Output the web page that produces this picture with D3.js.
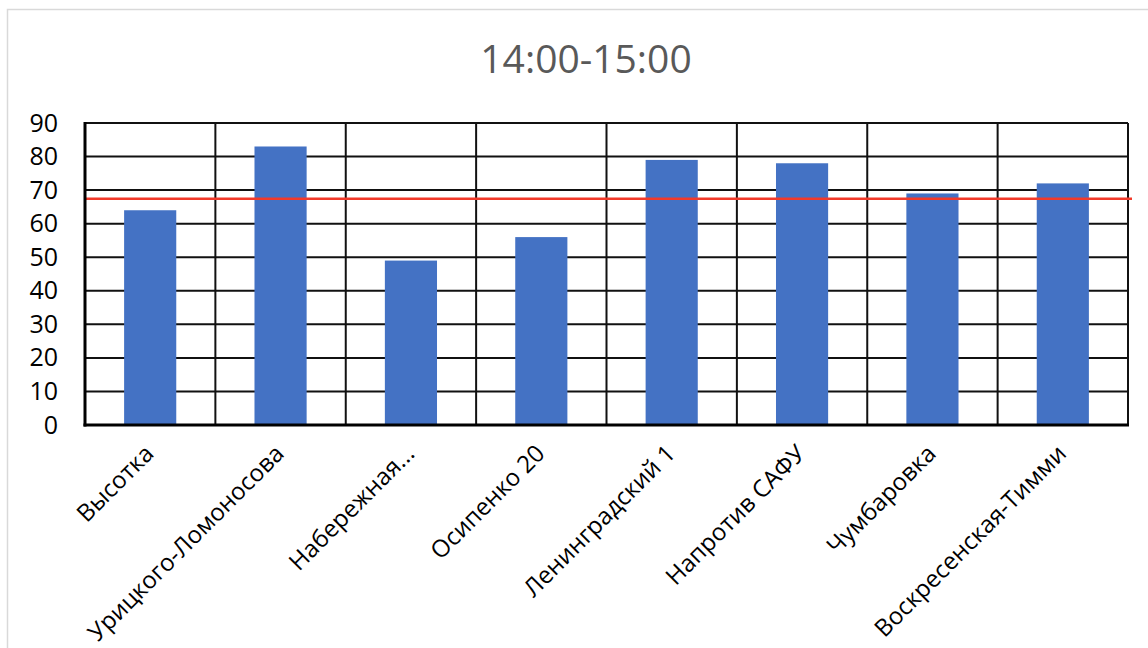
<!DOCTYPE html>
<html>
<head>
<meta charset="utf-8">
<script src="https://cdn.jsdelivr.net/npm/d3@7"></script>
<style>
  html, body { margin: 0; padding: 0; background: #fff; }
  svg { display: block; }
</style>
</head>
<body>
<svg id="chart" width="1148" height="648"></svg>
<script>
// Stops and their counts for the 14:00-15:00 interval
const categories = ["Высотка", "Урицкого-Ломоносова", "Набережная...", "Осипенко 20",
                    "Ленинградский 1", "Напротив САФУ", "Чумбаровка", "Воскресенская-Тимми"];
const values = [64, 83, 49, 56, 79, 78, 69, 72];
const referenceLevel = [67.4];
const yTicks = [0, 10, 20, 30, 40, 50, 60, 70, 80, 90];
const title = "14:00-15:00";

const svg = d3.select("#chart");
const margin = { left: 85, right: 1128, top: 123, bottom: 425 };
const font = "'Open Sans', 'Noto Sans', sans-serif";

// Outer chart frame
svg.append("rect")
  .attr("x", 7.5).attr("y", 9.5)
  .attr("width", 1200).attr("height", 700)
  .attr("fill", "#fff")
  .attr("stroke", "#d9d9d9").attr("stroke-width", 1.5);

const x = d3.scaleBand()
  .domain(categories)
  .range([margin.left, margin.right])
  .paddingInner(0.6)
  .paddingOuter(0.3);

const y = d3.scaleLinear()
  .domain([0, 90])
  .range([margin.bottom, margin.top]);

const step = x.step();
const bandStart = c => x(c) - step * 0.3;

// Title
svg.append("text")
  .attr("x", 586).attr("y", 73)
  .attr("text-anchor", "middle")
  .attr("font-family", font)
  .attr("font-size", 39)
  .attr("fill", "#595959")
  .text(title);

// Horizontal gridlines
svg.append("g")
  .selectAll("line")
  .data(yTicks.filter(d => d > 0))
  .join("line")
  .attr("x1", margin.left).attr("x2", margin.right)
  .attr("y1", d => y(d)).attr("y2", d => y(d))
  .attr("stroke", "#111").attr("stroke-width", 2);

// Vertical gridlines at category boundaries
const boundaries = categories.map(bandStart).concat([margin.right]);
svg.append("g")
  .selectAll("line")
  .data(boundaries.slice(1))
  .join("line")
  .attr("x1", d => d).attr("x2", d => d)
  .attr("y1", margin.top).attr("y2", margin.bottom)
  .attr("stroke", "#111").attr("stroke-width", 2);

// Bars
svg.append("g")
  .selectAll("rect")
  .data(categories.map((c, i) => ({ c, v: values[i] })))
  .join("rect")
  .attr("x", d => x(d.c))
  .attr("width", x.bandwidth())
  .attr("y", d => y(d.v))
  .attr("height", d => y(0) - y(d.v))
  .attr("fill", "#4472C4");

// Reference level line
svg.append("g")
  .selectAll("line")
  .data(referenceLevel)
  .join("line")
  .attr("x1", margin.left - 1).attr("x2", margin.right + 4)
  .attr("y1", d => y(d)).attr("y2", d => y(d))
  .attr("stroke", "#f23a2a").attr("stroke-width", 2.5);

// Axis frame lines
svg.append("line")
  .attr("x1", margin.left).attr("x2", margin.left)
  .attr("y1", margin.top - 1).attr("y2", margin.bottom + 1.5)
  .attr("stroke", "#000").attr("stroke-width", 3);
svg.append("line")
  .attr("x1", margin.left - 1.5).attr("x2", margin.right + 1)
  .attr("y1", margin.bottom).attr("y2", margin.bottom)
  .attr("stroke", "#000").attr("stroke-width", 3);

// Y axis labels
const yAxis = d3.axisLeft(y).tickValues(yTicks).tickSize(0).tickPadding(27);
const gy = svg.append("g")
  .attr("transform", `translate(${margin.left},0)`)
  .call(yAxis);
gy.select(".domain").remove();
gy.selectAll("text")
  .attr("font-family", font)
  .attr("font-size", 25)
  .attr("fill", "#000");

// X axis labels, rotated
const xAxis = d3.axisBottom(x).tickSize(0).tickPadding(0);
const gx = svg.append("g")
  .attr("transform", `translate(0,${margin.bottom})`)
  .call(xAxis);
gx.select(".domain").remove();
gx.selectAll("text")
  .attr("font-family", font)
  .attr("font-size", 24)
  .attr("fill", "#000")
  .attr("text-anchor", "end")
  .attr("dy", 0)
  .attr("transform", "translate(5,30) rotate(-45)");
</script>
</body>
</html>
